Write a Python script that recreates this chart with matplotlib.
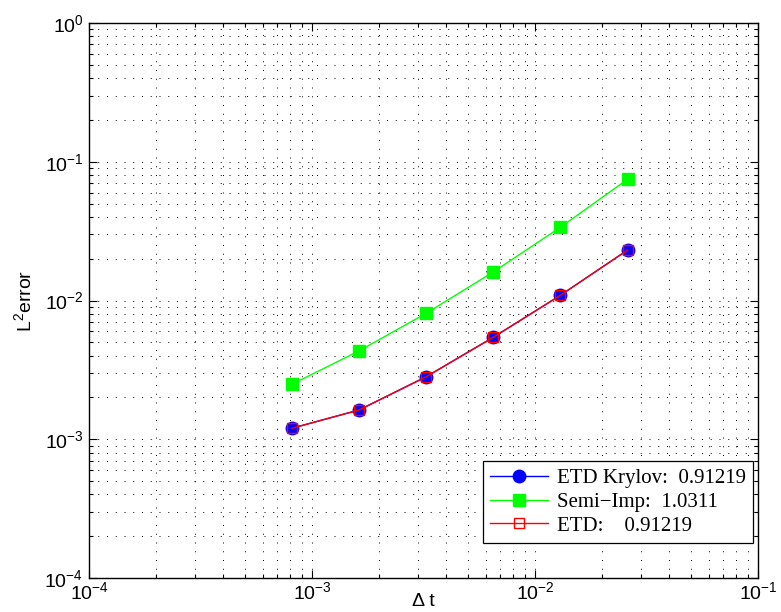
import matplotlib
matplotlib.use('agg')
import matplotlib.pyplot as plt
from matplotlib.ticker import LogLocator, NullFormatter

# time steps and L2 errors
dt = [0.026, 0.013, 0.0065, 0.00325, 0.001625, 0.0008125]
err_krylov = [0.0231, 0.0109, 0.00543, 0.00282, 0.001625, 0.0012]
err_semi = [0.0747, 0.0337, 0.01605, 0.00808, 0.00433, 0.00249]
err_etd = [0.0231, 0.0109, 0.00543, 0.00282, 0.001625, 0.0012]

labels = ["ETD Krylov:  0.91219", "Semi\u2212Imp:  1.0311", "ETD:    0.91219"]

plt.rcParams["font.family"] = ["Liberation Sans", "DejaVu Sans"]
plt.rcParams["mathtext.fontset"] = "custom"
plt.rcParams["mathtext.rm"] = "Liberation Sans"

fig = plt.figure(figsize=(7.81, 6.12), dpi=100)
ax = fig.add_axes([89 / 781, 34 / 612, (758 - 89) / 781, (578 - 23) / 612])

ax.loglog(dt, err_krylov, color="b", lw=1, marker="o", ms=9, mfc="b", mec="b", label=labels[0])
ax.loglog(dt, err_semi, color="#00ff00", lw=1, marker="s", ms=8, mfc="#00ff00", mec="#00ff00", label=labels[1])
ax.loglog(dt, err_etd, color="r", lw=1, marker="s", ms=7, mfc="none", mec="r", label=labels[2])

ax.set_xlim(1e-4, 1e-1)
ax.set_ylim(1e-4, 1e0)
ax.xaxis.set_major_locator(LogLocator(base=10, numticks=10))
ax.yaxis.set_major_locator(LogLocator(base=10, numticks=10))
ax.xaxis.set_minor_locator(LogLocator(base=10, subs=range(2, 10), numticks=20))
ax.yaxis.set_minor_locator(LogLocator(base=10, subs=range(2, 10), numticks=20))
ax.xaxis.set_minor_formatter(NullFormatter())
ax.yaxis.set_minor_formatter(NullFormatter())

# matlab style sparse dotted grid
ax.grid(True, which="both", color="k", linestyle=(0, (1, 8)), linewidth=0.7)
ax.tick_params(which="both", direction="in", top=True, right=True, labelsize=14, width=0.8)
ax.tick_params(which="major", length=6)
ax.tick_params(which="minor", length=3)
ax.tick_params(axis="x", pad=2)
ax.tick_params(axis="y", pad=4)
for s in ax.spines.values():
    s.set_linewidth(1.0)

ax.set_xlabel("\u0394 t", fontsize=14, va="center")
ax.xaxis.set_label_coords(0.5, -0.0425)
ax.set_ylabel("L$^2$error", fontsize=14, labelpad=6)

leg = ax.legend(loc="lower right", bbox_to_anchor=(0.9925, 0.063), fancybox=False,
                framealpha=1, edgecolor="k",
                prop={"family": "Liberation Serif", "size": 15},
                borderaxespad=0, handlelength=2.8, labelspacing=0.2,
                borderpad=0.35, handletextpad=0.4)
leg.get_frame().set_linewidth(0.9)

fig.savefig("out.png", dpi=100)
